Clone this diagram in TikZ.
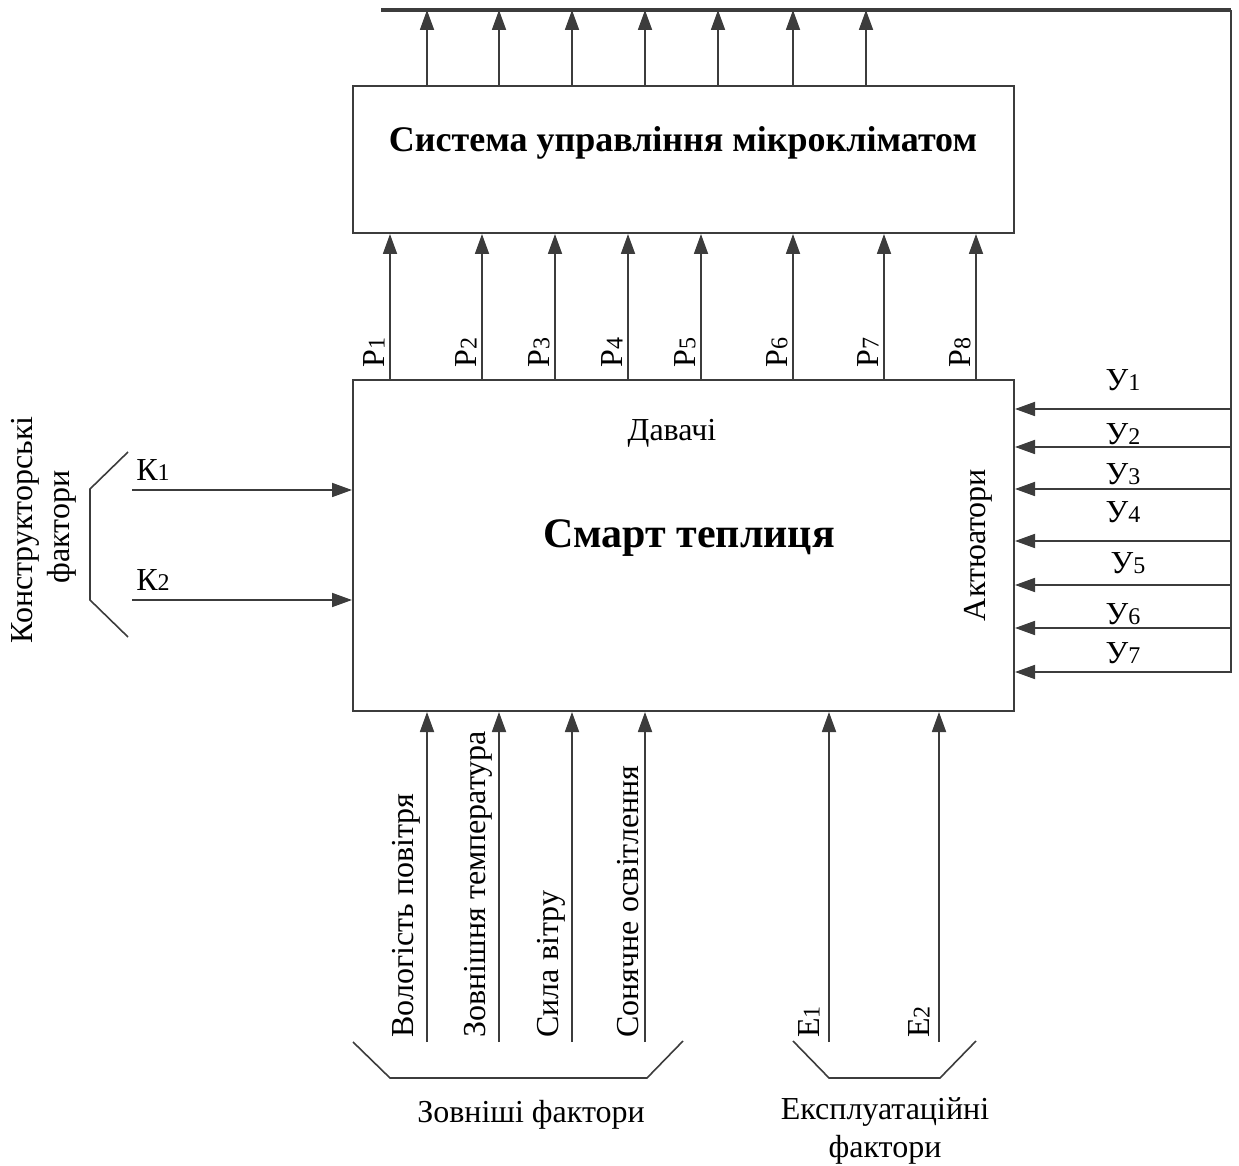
\documentclass[tikz,border=0pt]{standalone}
\usepackage{fontspec}
\setmainfont{Liberation Serif}
\usetikzlibrary{arrows.meta}
\definecolor{ln}{RGB}{60,60,60}
\newcommand\mydig[1]{{\fontsize{12}{12}\selectfont #1}}
\begin{document}
\begin{tikzpicture}[x=0.5pt,y=-0.5pt,
  box/.style={draw=ln,line width=1pt,rectangle,inner sep=0pt},
  arr/.style={draw=ln,line width=0.9pt,-{Triangle[length=10pt,width=7pt]}},
  bus/.style={draw=ln,line width=1.8pt},
  brk/.style={draw=ln,line width=0.8pt},
  lbl/.style={font=\fontsize{16}{19}\selectfont,inner sep=1pt},
  vlbl/.style={lbl,rotate=90,anchor=south west}]
\useasboundingbox (0,0) rectangle (1239,1166);

% boxes
\node[box,anchor=north west,minimum width=330.5pt,minimum height=73.5pt] (scu) at (352,85) {};
\node[font=\bfseries\fontsize{18}{20}\selectfont] (scut) at (683,143) {Система управління мікрокліматом};
\node[box,anchor=north west,minimum width=330.5pt,minimum height=165.5pt] (main) at (352,379) {};
\node[lbl] (dav) at (672,433) {Давачі};
\node[font=\bfseries\fontsize{21}{23}\selectfont] (smart) at (689,538) {Смарт теплиця};
\node[lbl,rotate=90] (akt) at (978,545) {Актюатори};

% bus
\coordinate (busL) at (381,10);
\coordinate (busR) at (1231,10);
\coordinate (busB) at (1231,673);
\draw[bus] (busL) -- (busR);
\draw[draw=ln,line width=1pt] (busR) -- (busB);

% top arrows
\foreach \x in {427,499,572,645,718,793,866}
  \draw[arr] (scu.north -| \x,0) -- (busL -| \x,0);

% P arrows
\foreach \x/\n in {390/1,482/2,555/3,628/4,701/5,793/6,884/7,976/8}{
  \draw[arr] (main.north -| \x,0) -- (scu.south -| \x,0);
  \node[vlbl] (p\n) at (\x-3,370) {Р\mydig{\n}};
}

% Y arrows
\foreach \y/\n/\ly/\lx in {409/1/380/1123,447/2/434/1123,489/3/474/1123,541/4/512/1123,585/5/563/1128,628/6/614/1123,672/7/653/1123}{
  \draw[arr] (busR |- 0,\y) -- (main.east |- 0,\y);
  \node[lbl] (y\n) at (\lx,\ly) {У\mydig{\n}};
}

% K inputs
\coordinate (k1s) at (132,490);
\coordinate (k2s) at (132,600);
\draw[arr] (k1s) -- (main.west |- k1s);
\draw[arr] (k2s) -- (main.west |- k2s);
\node[lbl] (k1) at (153,470) {К\mydig{1}};
\node[lbl] (k2) at (153,580) {К\mydig{2}};
\draw[brk] (128,452) -- (90,489) -- (90,600) -- (128,637);
\node[lbl,rotate=90] (kf1) at (25,530) {Конструкторські};
\node[lbl,rotate=90] (kf2) at (62,527) {фактори};

% external factors
\foreach \x/\t [count=\i] in {427/Вологість повітря,499/Зовнішня температура,572/Сила вітру,645/Сонячне освітлення}{
  \coordinate (b\i) at (\x,1042);
  \draw[arr] (b\i) -- (main.south -| b\i);
  \node[vlbl] (bt\i) at (\x-4,1040) {\t};
}
\draw[brk] (353,1042) -- (390,1078) -- (647,1078) -- (683,1041);
\node[lbl] (zf) at (531,1115) {Зовніші фактори};

% exploitation factors
\foreach \x/\n in {829/1,939/2}{
  \coordinate (e\n) at (\x,1042);
  \draw[arr] (e\n) -- (main.south -| e\n);
  \node[vlbl] (et\n) at (\x-7,1040) {Е\mydig{\n}};
}
\draw[brk] (793,1041) -- (829,1078) -- (940,1078) -- (976,1041);
\node[lbl,align=center] (ef) at (885,1131) {Експлуатаційні\\фактори};
\end{tikzpicture}
\end{document}
